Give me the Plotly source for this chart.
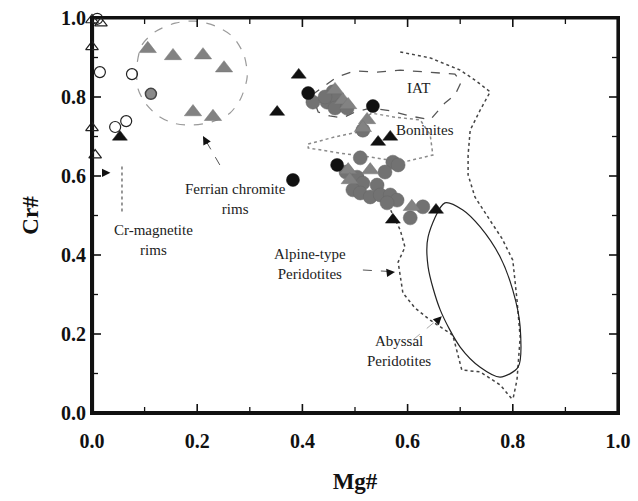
import plotly.graph_objects as go

# ---------------- data (Mg#, Cr#) ----------------
gray_circle_x = [0.420, 0.447, 0.458, 0.466, 0.475, 0.462, 0.485, 0.443, 0.515, 0.510, 0.572, 0.582,
                 0.557, 0.504, 0.515, 0.496, 0.542, 0.510, 0.529, 0.548, 0.567, 0.580, 0.561, 0.629,
                 0.605, 0.483]
gray_circle_y = [0.787, 0.787, 0.813, 0.795, 0.782, 0.772, 0.772, 0.800, 0.716, 0.646, 0.635, 0.628,
                 0.610, 0.597, 0.582, 0.565, 0.577, 0.557, 0.547, 0.552, 0.552, 0.539, 0.532, 0.522,
                 0.494, 0.610]

gray_tri_x = [0.462, 0.477, 0.487, 0.523, 0.515, 0.487, 0.529, 0.490, 0.608,
              0.106, 0.154, 0.211, 0.251, 0.192, 0.230]
gray_tri_y = [0.818, 0.792, 0.780, 0.742, 0.722, 0.615, 0.615, 0.590, 0.522,
              0.922, 0.904, 0.906, 0.873, 0.762, 0.750]

hatched_circle_x = [0.112]
hatched_circle_y = [0.808]

black_circle_x = [0.411, 0.534, 0.466, 0.382]
black_circle_y = [0.810, 0.777, 0.628, 0.590]

black_tri_x = [0.393, 0.352, 0.544, 0.567, 0.572, 0.654, 0.053]
black_tri_y = [0.856, 0.762, 0.686, 0.699, 0.489, 0.514, 0.699]

open_circle_x = [0.010, 0.015, 0.076, 0.044, 0.065]
open_circle_y = [0.998, 0.863, 0.858, 0.724, 0.739]

open_tri_x = [0.000, 0.017, 0.000, 0.000, 0.006]
open_tri_y = [0.995, 0.987, 0.927, 0.722, 0.653]

# ---------------- field outlines (Mg#, Cr#) ----------------
ferrian_field_x = [0.086, 0.095, 0.120, 0.158, 0.196, 0.234, 0.268, 0.289, 0.295, 0.283, 0.262,
                   0.228, 0.190, 0.154, 0.124, 0.101, 0.087, 0.086]
ferrian_field_y = [0.886, 0.932, 0.965, 0.987, 0.992, 0.980, 0.952, 0.906, 0.851, 0.797, 0.759,
                   0.737, 0.729, 0.734, 0.754, 0.785, 0.823, 0.886]

iat_x = [0.418, 0.443, 0.466, 0.500, 0.542, 0.586, 0.637, 0.690, 0.702, 0.690, 0.671, 0.643,
         0.605, 0.567, 0.529, 0.500, 0.477, 0.452, 0.430, 0.418]
iat_y = [0.805, 0.830, 0.851, 0.866, 0.863, 0.868, 0.863, 0.858, 0.838, 0.805, 0.785, 0.742,
         0.752, 0.765, 0.772, 0.762, 0.747, 0.752, 0.762, 0.805]

boninite_x = [0.411, 0.462, 0.504, 0.513, 0.532, 0.576, 0.624, 0.643, 0.648, 0.591, 0.529,
              0.471, 0.411, 0.411]
boninite_y = [0.681, 0.699, 0.711, 0.742, 0.759, 0.749, 0.742, 0.704, 0.653, 0.635, 0.648,
              0.658, 0.671, 0.681]

alpine_right_x = [0.586, 0.643, 0.700, 0.728, 0.757, 0.738, 0.719, 0.715, 0.715, 0.728, 0.760,
                  0.779, 0.800, 0.808, 0.814, 0.808, 0.800]
alpine_right_y = [0.914, 0.899, 0.868, 0.843, 0.813, 0.767, 0.716, 0.653, 0.603, 0.547, 0.481,
                  0.443, 0.387, 0.286, 0.192, 0.084, 0.033]
alpine_left_x = [0.563, 0.586, 0.595, 0.582, 0.591, 0.614, 0.643, 0.686, 0.703, 0.738, 0.776, 0.800]
alpine_left_y = [0.527, 0.463, 0.420, 0.382, 0.304, 0.266, 0.235, 0.197, 0.109, 0.104, 0.071, 0.033]

abyssal_x = [0.671, 0.639, 0.639, 0.662, 0.700, 0.738, 0.776, 0.810, 0.814, 0.800, 0.776, 0.738,
             0.705, 0.671]
abyssal_y = [0.532, 0.446, 0.370, 0.261, 0.167, 0.116, 0.091, 0.116, 0.218, 0.311, 0.395, 0.471,
             0.514, 0.532]

# leader lines
cr_mag_leader_x = [0.057, 0.057]
cr_mag_leader_y = [0.510, 0.625]
ferrian_leader_x = [0.243, 0.230, 0.214]
ferrian_leader_y = [0.628, 0.658, 0.695]
alpine_leader_x = [0.515, 0.570]
alpine_leader_y = [0.362, 0.358]
abyssal_leader_x = [0.610, 0.660]
abyssal_leader_y = [0.185, 0.240]

# axis ticks
major_ticks = [0.0, 0.2, 0.4, 0.6, 0.8, 1.0]
minor_ticks = [0.1, 0.3, 0.5, 0.7, 0.9]

SERIF = "Liberation Serif"
INK = "#111111"
W, H = 638, 501
M = dict(l=92, r=20, t=18, b=88)
PW, PH = W - M["l"] - M["r"], H - M["t"] - M["b"]

fig = go.Figure()

def line(x, y, color, dash, width=1.2, shape="linear"):
    fig.add_trace(go.Scatter(x=x, y=y, mode="lines",
                             line=dict(color=color, dash=dash, width=width, shape=shape, smoothing=0.8),
                             hoverinfo="skip", showlegend=False))

line(ferrian_field_x, ferrian_field_y, "#9a9a9a", "dash", 1.2, "spline")
line(iat_x, iat_y, "#555555", "dash", 1.3)
line(boninite_x, boninite_y, "#8a8a8a", "dot", 1.5)
line(alpine_right_x, alpine_right_y, "#444444", "dot", 1.5)
line(alpine_left_x, alpine_left_y, "#444444", "dot", 1.5)
line(abyssal_x, abyssal_y, "#222222", "solid", 1.2, "spline")
line(cr_mag_leader_x, cr_mag_leader_y, "#777777", "dot", 1.5)
line(ferrian_leader_x, ferrian_leader_y, "#555555", "dash", 1.0)
line(alpine_leader_x, alpine_leader_y, "#555555", "dash", 1.0)
line(abyssal_leader_x, abyssal_leader_y, "#aaaaaa", "dash", 1.0)

# frame (line traces on the plot edges; the inner half shows) and inward ticks
line([0, 1, 1, 0, 0], [0, 0, 1, 1, 0], INK, "solid", 3.2)
line([0, 0, None, 0, 1], [0, 1, None, 0, 0], INK, "solid", 4.2)
for ticks, plen, w in ((major_ticks, 9, 1.6), (minor_ticks, 6, 1.3)):
    fx, fy = plen / PW, plen / PH
    tx, ty = [], []
    for v in ticks:
        tx += [v, v, None, v, v, None, 0, fx, None, 1 - fx, 1, None]
        ty += [0, fy, None, 1 - fy, 1, None, v, v, None, v, v, None]
    line(tx, ty, INK, "solid", w)

def pts(x, y, symbol, size, fill, edge, ew=1.2):
    fig.add_trace(go.Scatter(x=x, y=y, mode="markers", cliponaxis=False,
                             marker=dict(symbol=symbol, size=size, color=fill,
                                         line=dict(color=edge, width=ew)),
                             showlegend=False))

pts(gray_circle_x, gray_circle_y, "circle", 14, "#727272", "#666666", 0.5)
pts(gray_tri_x, gray_tri_y, "triangle-up", 15, "#828282", "#747474", 0.5)
pts(hatched_circle_x, hatched_circle_y, "circle", 11, "#8a8a8a", "#444444", 1.5)
pts(black_circle_x, black_circle_y, "circle", 13, "#111111", "#111111", 0.5)
pts(black_tri_x, black_tri_y, "triangle-up", 13, "#111111", "#111111", 0.5)
pts(open_circle_x, open_circle_y, "circle-open", 11, "#222222", "#222222", 1.2)
pts(open_tri_x, open_tri_y, "triangle-up-open", 11, "#222222", "#222222", 1.2)

# arrowheads at ends of leaders
heads = [(0.035, 0.608, -8, 0), (0.211, 0.701, 5, 9), (0.576, 0.357, -9, 1), (0.665, 0.245, -7, 7)]
for hx, hy, ax, ay in heads:
    fig.add_annotation(x=hx, y=hy, ax=ax, ay=ay, text="", showarrow=True, arrowhead=2,
                       arrowsize=1.4, arrowwidth=1.2, arrowcolor="#111111")

labels = [("IAT", 0.620, 0.823), ("Boninites", 0.633, 0.716),
          ("Ferrian chromite<br>rims", 0.272, 0.542), ("Cr-magnetite<br>rims", 0.116, 0.438),
          ("Alpine-type<br>Peridotites", 0.414, 0.377), ("Abyssal<br>Peridotites", 0.584, 0.157)]
for t, x, y in labels:
    fig.add_annotation(x=x, y=y, text=t, showarrow=False,
                       font=dict(family=SERIF, size=15, color="#222222"))

axis_common = dict(range=[0, 1], tickvals=major_ticks, tickformat=".1f", showline=True, linecolor=INK,
                   linewidth=2, mirror=True, showgrid=False, zeroline=False, automargin=False,
                   tickfont=dict(family=SERIF, size=20, color=INK, weight="bold"))

fig.update_layout(
    xaxis=dict(**axis_common, ticks="outside", ticklen=9, tickcolor="rgba(0,0,0,0)",
               title=dict(text="<b>Mg#</b>", font=dict(family=SERIF, size=23, color=INK), standoff=22)),
    yaxis=dict(**axis_common, ticks="", ticksuffix="  ",
               title=dict(text="<b>Cr#</b>", font=dict(family=SERIF, size=23, color=INK), standoff=16)),
    width=W, height=H, margin=M,
    plot_bgcolor="white", paper_bgcolor="white", showlegend=False)

fig.write_html("out.html", config={"displayModeBar": False})

# remove the browser's default page margin so the figure sits at the window origin
with open("out.html", "r", encoding="utf-8") as f:
    html = f.read()
html = html.replace("<head>", "<head><style>html,body{margin:0;padding:0;}</style>", 1)
with open("out.html", "w", encoding="utf-8") as f:
    f.write(html)
